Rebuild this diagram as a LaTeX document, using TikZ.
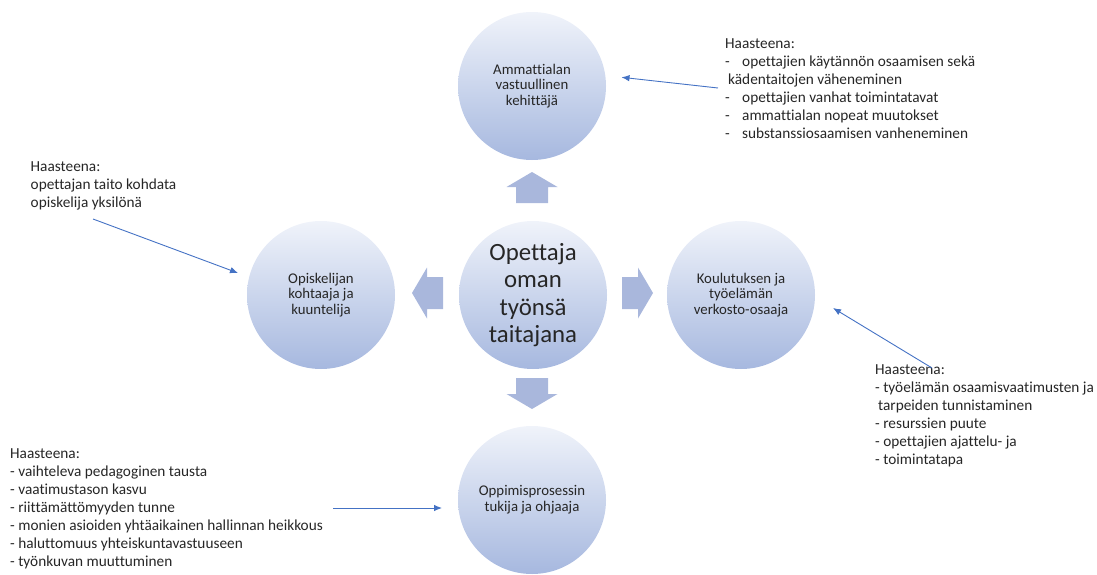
\documentclass[tikz,border=0pt]{standalone}
\usepackage{fontspec}
\setmainfont{Carlito}[Ligatures=NoCommon]
\usetikzlibrary{arrows.meta}
\definecolor{txt}{HTML}{262626}
\definecolor{bluel}{HTML}{4472C4}
\definecolor{arrfill}{HTML}{A9B7DC}
\definecolor{ctop}{HTML}{F0F3FA}
\definecolor{cbot}{HTML}{A6B8DF}
\tikzset{
  bubble/.style={circle, minimum size=148pt, inner sep=0pt, top color=ctop, bottom color=cbot, shading angle=0,
     text=txt, align=center, font=\fontsize{14.8}{15.8}\selectfont},
  bigbubble/.style={bubble, font=\fontsize{24.8}{27.5}\selectfont},
  note/.style={anchor=north west, inner sep=0pt, align=left, text=txt, font=\fontsize{15.3}{18}\selectfont},
  link/.style={draw=bluel, line width=0.9pt, -{Latex[length=8pt,width=6.5pt]}},
  blockarrow/.style={fill=arrfill, draw=none}
}
\newcommand{\dsh}{\makebox[17pt][l]{-}}
\begin{document}
\begin{tikzpicture}[x=1pt,y=-1pt]
\useasboundingbox (0,0) rectangle (1097,575);

% circles
\node[bubble] (top) at (532,86) {Ammattialan\\vastuullinen\\kehittäjä};
\node[bigbubble] (mid) at (533,295) {Opettaja\\oman\\työnsä\\taitajana};
\node[bubble] (left) at (321,295) {Opiskelijan\\kohtaaja ja\\kuuntelija};
\node[bubble] (right) at (741,295) {Koulutuksen ja\\työelämän\\verkosto-osaaja};
\node[bubble] (bot) at (532,500) {Oppimisprosessin\\tukija ja ohjaaja};

% block arrows
\fill[blockarrow] (532,172) -- (557.5,187) -- (548,187) -- (548,203) -- (516,203) -- (516,187) -- (506.5,187) -- cycle;
\fill[blockarrow] (532,409) -- (557.5,394) -- (548,394) -- (548,378) -- (516,378) -- (516,394) -- (506.5,394) -- cycle;
\fill[blockarrow] (412,293) -- (427,267.5) -- (427,277) -- (443,277) -- (443,309) -- (427,309) -- (427,318.5) -- cycle;
\fill[blockarrow] (653,293) -- (638,267.5) -- (638,277) -- (622,277) -- (622,309) -- (638,309) -- (638,318.5) -- cycle;

% notes
\node[note] (ntop) at (725,38.6) {Haasteena:\\
\dsh opettajien käytännön osaamisen sekä\\
\hspace{3pt}kädentaitojen väheneminen\\
\dsh opettajien vanhat toimintatavat\\
\dsh ammattialan nopeat muutokset\\
\dsh substanssiosaamisen vanheneminen};

\node[note] (nleft) at (30.5,161.8) {Haasteena:\\
opettajan taito kohdata\\
opiskelija yksilönä};

\node[note] (nright) at (875,364.1) {Haasteena:\\
- työelämän osaamisvaatimusten ja\\
\hspace{3pt}tarpeiden tunnistaminen\\
- resurssien puute\\
- opettajien ajattelu- ja\\
- toimintatapa};

\node[note] (nbot) at (10,448.1) {Haasteena:\\
- vaihteleva pedagoginen tausta\\
- vaatimustason kasvu\\
- riittämättömyyden tunne\\
- monien asioiden yhtäaikainen hallinnan heikkous\\
- haluttomuus yhteiskuntavastuuseen\\
- työnkuvan muuttuminen};

% connectors
\coordinate (ta) at (718,88);
\coordinate (tb) at (621.5,77.3);
\coordinate (la) at (93,219);
\coordinate (lb) at (238,273);
\coordinate (ra) at (932,368);
\coordinate (rb) at (833,308);
\coordinate (ba) at (333,508);
\coordinate (bb) at (442,508);
\draw[link] (ta) -- (tb);
\draw[link] (la) -- (lb);
\draw[link] (ra) -- (rb);
\draw[link] (ba) -- (bb);
\end{tikzpicture}
\end{document}
